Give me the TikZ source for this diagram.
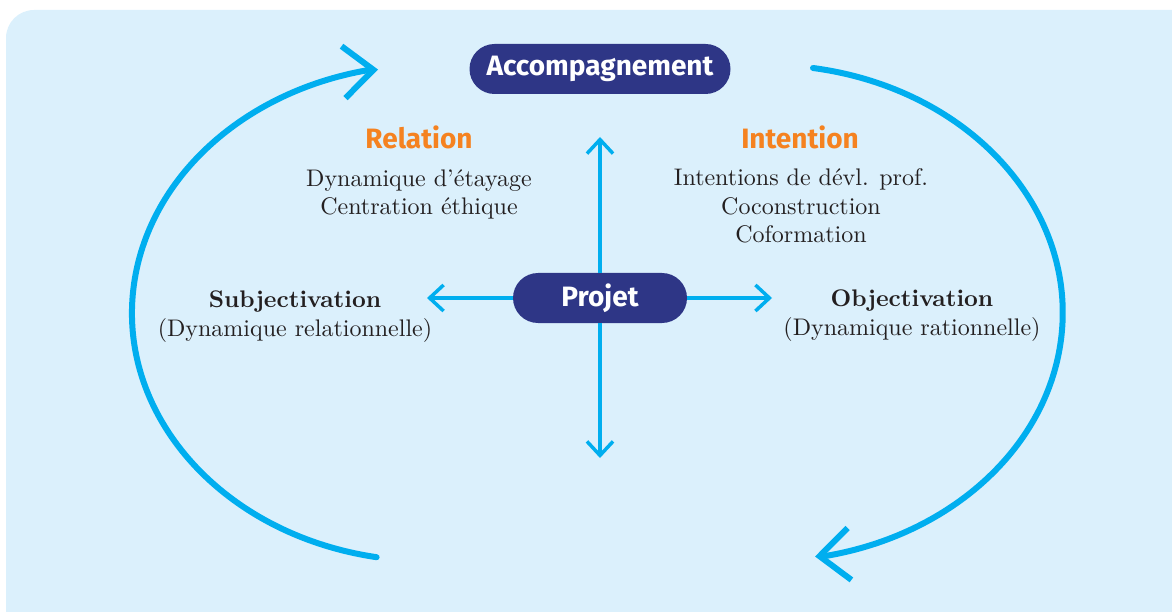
\documentclass[tikz,border=0pt]{standalone}
\usepackage{fontspec}
\setmainfont{lmroman10}[Extension=.otf, UprightFont=*-regular, BoldFont=*-bold,
  ItalicFont=*-italic, BoldItalicFont=*-bolditalic]
\newfontfamily\labelfont{Fira Sans}
\usetikzlibrary{arrows.meta,shapes.misc}
\definecolor{panel}{HTML}{DBF0FC}
\definecolor{navy}{HTML}{2E3686}
\definecolor{accent}{HTML}{F58220}
\definecolor{flow}{HTML}{00AEEF}
\definecolor{ink}{HTML}{231F20}
\begin{document}
\begin{tikzpicture}[x=1pt,y=-1pt,
  pill/.style={rounded rectangle, fill=navy, text=white, inner sep=0pt,
    minimum height=50pt, font=\labelfont\bfseries\fontsize{28}{32}\selectfont},
  heading/.style={text=accent, inner sep=0pt,
    font=\labelfont\bfseries\fontsize{28}{32}\selectfont},
  body/.style={text=ink, inner sep=0pt, align=center, anchor=base,
    font=\fontsize{24}{28.5}\selectfont},
  link/.style={draw=flow, line width=3.5pt,
    -{Straight Barb[length=14pt,width=26pt,sharp]}},
  cycle/.style={draw=flow, line width=6pt, line cap=round,
    -{Straight Barb[length=30pt,width=52pt,sharp]}}]
\useasboundingbox (0,0) rectangle (1172,612);
% panel background, cut at the right and bottom edges
\begin{scope}
  \clip (0,0) rectangle (1172,612);
  \fill[panel, rounded corners=28pt] (6,10) rectangle (1210,650);
\end{scope}

% central hub and the four directions
\node[pill, minimum width=174pt] (proj) at (600,298) {Projet};
\coordinate (up) at (600,137);
\coordinate (down) at (600,458);
\coordinate (left) at (427,298);
\coordinate (right) at (772,298);
\draw[link] (proj.north) -- (up);
\draw[link] (proj.south) -- (down);
\draw[link] (proj.west) -- (left);
\draw[link] (proj.east) -- (right);

% top label
\node[pill, minimum width=261pt] (acc) at (600,69) {Accompagnement};

% quadrant texts (base anchor = baseline of the last line)
\node[heading] (rel) at (419,137) {Relation};
\node[body] (reltext) at (419,215) {Dynamique d’étayage\\Centration éthique};
\node[heading] (int) at (800,137) {Intention};
\node[body] (inttext) at (801,243) {Intentions de dévl. prof.\\Coconstruction\\Coformation};
\node[body] (subj) at (295,336) {\textbf{Subjectivation}\\(Dynamique relationnelle)};
\node[body] (obj) at (912,335) {\textbf{Objectivation}\\(Dynamique rationnelle)};

% the two cycle arcs, each closing with a short run into its arrow tip
\coordinate (lb) at (376.6,557.2);
\coordinate (ltip) at (378,69.5);
\coordinate (rt) at (813,68);
\coordinate (rtip) at (815,556.5);
\draw[cycle] (lb) arc[start angle=100, end angle=258, x radius=296, y radius=248] -- (ltip);
\draw[cycle] (rt) arc[start angle=-81, end angle=78, x radius=296, y radius=248] -- (rtip);
\end{tikzpicture}
\end{document}
